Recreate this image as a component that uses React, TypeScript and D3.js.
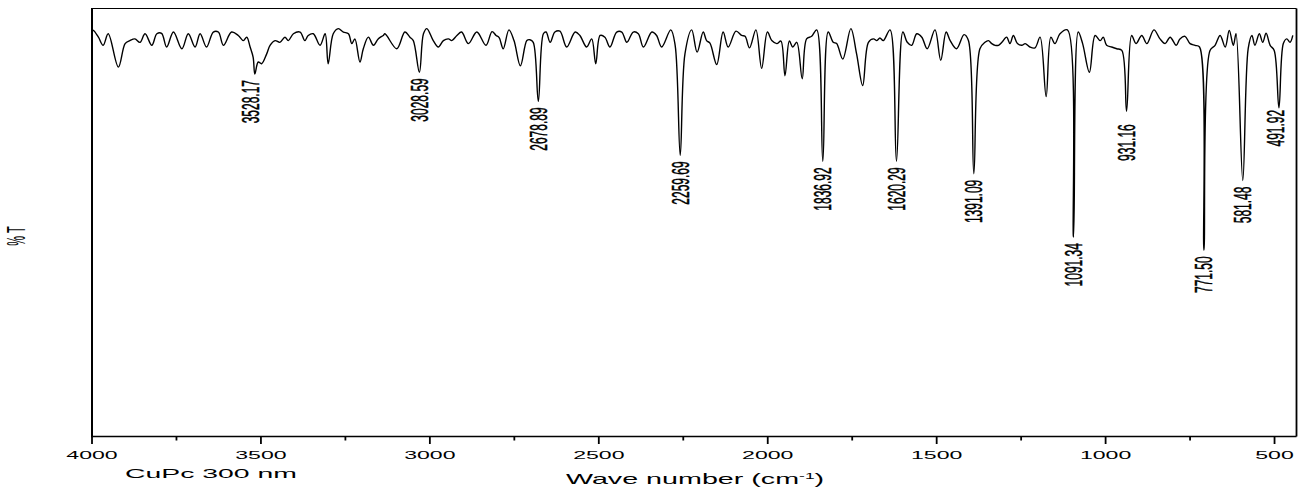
import React from "react";
import * as d3 from "d3";

// IR spectrum: [wave number (cm-1), %T]
const spectrum: [number, number][] = [
  [4000, 94.8], [3996, 94.9], [3981, 93.3], [3967, 91.4], [3952, 94.1], [3922, 86.3], [3902, 91.8],
  [3888, 92.5], [3873, 92.9], [3858, 92.1], [3843, 94.1], [3823, 91.4], [3808, 94.1], [3794, 94.2],
  [3779, 91.0], [3759, 94.5], [3734, 90.6], [3715, 94.1], [3695, 91.0], [3680, 94.1], [3661, 91.0],
  [3641, 94.5], [3626, 94.5], [3611, 91.4], [3587, 94.5], [3567, 93.7], [3552, 92.5], [3542, 93.3],
  [3532, 91.0], [3523, 88.6], [3518, 84.7], [3508, 87.5], [3498, 87.1], [3483, 89.4], [3473, 91.4],
  [3458, 92.5], [3444, 92.1], [3429, 93.3], [3419, 92.5], [3404, 94.1], [3384, 94.5], [3370, 92.5],
  [3360, 93.7], [3345, 94.1], [3325, 91.4], [3310, 94.1], [3301, 87.1], [3286, 94.1], [3271, 95.3],
  [3256, 94.5], [3241, 94.1], [3231, 91.8], [3222, 92.9], [3207, 87.5], [3197, 90.6], [3182, 93.3],
  [3167, 91.4], [3153, 92.9], [3138, 93.7], [3133, 94.1], [3098, 90.6], [3074, 94.5], [3059, 93.3],
  [3049, 92.5], [3031, 85.1], [3019, 94.1], [3009, 95.3], [2990, 92.5], [2975, 91.0], [2960, 92.5],
  [2945, 92.9], [2935, 92.5], [2920, 93.7], [2906, 94.5], [2886, 91.8], [2861, 94.5], [2834, 91.4],
  [2816, 94.6], [2804, 93.7], [2795, 93.2], [2783, 90.6], [2766, 95.0], [2751, 92.5], [2732, 86.6],
  [2713, 92.5], [2704, 92.7], [2694, 92.1], [2679, 78.3], [2664, 94.1], [2656, 94.5], [2644, 92.1],
  [2630, 94.5], [2615, 94.7], [2595, 91.0], [2570, 94.5], [2556, 93.7], [2536, 91.0], [2521, 92.9],
  [2509, 87.1], [2496, 93.7], [2482, 93.3], [2467, 91.0], [2447, 94.5], [2432, 94.5], [2417, 92.1],
  [2398, 94.5], [2383, 94.1], [2368, 91.0], [2343, 94.5], [2329, 93.7], [2314, 91.0], [2287, 95.0],
  [2274, 91.4], [2259, 65.7], [2245, 89.4], [2225, 95.0], [2209, 89.8], [2191, 94.5], [2181, 92.5],
  [2171, 91.9], [2151, 86.9], [2132, 94.5], [2117, 91.0], [2094, 94.7], [2077, 93.7], [2067, 93.5],
  [2054, 90.8], [2035, 95.0], [2018, 86.0], [2001, 94.5], [1988, 92.5], [1973, 91.8], [1961, 92.4],
  [1949, 84.3], [1936, 92.4], [1926, 91.0], [1914, 92.1], [1898, 83.6], [1885, 92.9], [1870, 93.5],
  [1855, 95.0], [1837, 64.3], [1821, 94.5], [1806, 92.1], [1796, 91.8], [1778, 88.2], [1754, 95.3],
  [1737, 89.4], [1719, 82.0], [1702, 92.1], [1687, 92.9], [1677, 92.5], [1668, 93.1], [1658, 92.5],
  [1638, 95.0], [1619, 64.3], [1600, 94.5], [1587, 92.1], [1574, 91.4], [1559, 94.1], [1544, 93.3],
  [1528, 90.6], [1505, 95.0], [1488, 87.9], [1472, 94.5], [1460, 92.5], [1441, 90.6], [1419, 93.9],
  [1406, 92.5], [1390, 61.4], [1372, 90.6], [1357, 92.1], [1347, 92.5], [1337, 91.8], [1327, 91.4],
  [1317, 91.4], [1307, 92.1], [1293, 93.3], [1283, 91.8], [1273, 93.7], [1261, 91.8], [1248, 91.4],
  [1238, 91.8], [1224, 91.0], [1209, 90.8], [1194, 93.3], [1176, 79.4], [1162, 93.3], [1150, 91.8],
  [1135, 94.1], [1113, 95.0], [1095, 46.6], [1081, 94.5], [1068, 91.8], [1048, 85.1], [1031, 93.7],
  [1016, 92.5], [1007, 93.3], [997, 91.4], [982, 91.0], [967, 90.6], [952, 90.2], [938, 76.0],
  [923, 93.7], [910, 91.8], [893, 93.7], [878, 91.8], [857, 95.0], [839, 92.9], [824, 91.8],
  [809, 93.3], [791, 91.4], [780, 92.9], [765, 93.5], [750, 91.8], [735, 91.4], [722, 91.0],
  [709, 43.5], [691, 90.2], [676, 91.4], [661, 93.7], [646, 91.0], [634, 94.9], [622, 91.4],
  [614, 94.1], [594, 59.8], [578, 90.6], [567, 93.7], [558, 91.4], [545, 94.1], [535, 92.1],
  [525, 94.2], [513, 91.4], [501, 90.2], [487, 76.8], [474, 91.8], [464, 92.9], [454, 92.1],
  [446, 93.7],
];

const peakLabels = [
  "3528.17", "3028.59", "2678.89", "2259.69", "1836.92", "1620.29",
  "1391.09", "1091.34", "931.16", "771.50", "581.48", "491.92",
];
const peakPositions = [3518, 3031, 2679, 2259, 1837, 1619, 1390, 1095, 938, 709, 594, 487];

const majorTicks = [4000, 3500, 3000, 2500, 2000, 1500, 1000, 500];
const minorTicks = [3750, 3250, 2750, 2250, 1750, 1250, 750];

const xDomain: [number, number] = [4000, 435];
const yDomain: [number, number] = [0, 100];

const xTitle = "Wave number (cm";
const yTitle = "% T";
const sampleName = "CuPc 300 nm";

const FONT = "'Liberation Sans', Arial, Helvetica, sans-serif";

export default function App() {
  const left = 92, right = 1296.5, top = 8.5, bottom = 436.5;
  const x = d3.scaleLinear().domain(xDomain).range([left, right]);
  const y = d3.scaleLinear().domain(yDomain).range([bottom, top]);

  const line = d3
    .line<[number, number]>()
    .x((d) => x(d[0]))
    .y((d) => y(d[1]))
    .curve(d3.curveCatmullRom.alpha(0.5));

  const depthAt = (w: number) => {
    let best = spectrum[0];
    for (const p of spectrum) if (Math.abs(p[0] - w) < Math.abs(best[0] - w)) best = p;
    return best[1];
  };
  const gapFor = (lbl: string) => (lbl === "931.16" ? 13 : lbl === "491.92" ? 2 : 6);
  const shiftFor = (lbl: string) => (lbl === "3528.17" ? -4 : lbl === "491.92" ? -3 : 0);

  return (
    <svg
      width={1309}
      height={488}
      style={{ position: "absolute", left: 0, top: 0, background: "#fff" }}
      fontFamily={FONT}
    >
      <rect x={0} y={0} width={1309} height={488} fill="#fff" />
      {/* frame */}
      <line x1={left} x2={right} y1={top} y2={top} stroke="#000" strokeWidth={1.2} />
      <line x1={right} x2={right} y1={top} y2={bottom} stroke="#000" strokeWidth={1.8} />
      <line x1={left} x2={left} y1={top - 0.5} y2={bottom + 0.8} stroke="#000" strokeWidth={2} />
      <line x1={left} x2={right} y1={bottom} y2={bottom} stroke="#000" strokeWidth={1.6} />

      {/* ticks */}
      {majorTicks.map((t) => (
        <g key={"M" + t}>
          <line x1={x(t)} x2={x(t)} y1={bottom} y2={bottom + 7.5} stroke="#000" strokeWidth={1.8} />
          <text
            transform={`translate(${x(t)},459) scale(2.1,1)`}
            textAnchor="middle"
            fontSize={11}
            fill="#000"
          >
            {t}
          </text>
        </g>
      ))}
      {minorTicks.map((t) => (
        <line key={"m" + t} x1={x(t)} x2={x(t)} y1={bottom} y2={bottom + 4} stroke="#000" strokeWidth={1.8} />
      ))}

      {/* spectrum */}
      <path d={line(spectrum) || ""} fill="none" stroke="#000" strokeWidth={1.4} strokeLinejoin="round" />

      {/* peak labels */}
      {peakLabels.map((lbl, i) => {
        const px = x(peakPositions[i]) + shiftFor(lbl);
        const py = y(depthAt(peakPositions[i])) + gapFor(lbl);
        return (
          <text
            key={lbl}
            transform={`translate(${px},${py}) rotate(-90) scale(1,2.0)`}
            textAnchor="end"
            dy="0.35em"
            fontSize={12}
            fill="#000"
            stroke="#000"
            strokeWidth={0.25}
          >
            {lbl}
          </text>
        );
      })}

      {/* titles */}
      <text transform="translate(125,478) scale(2.27,1)" fontSize={12.5} fill="#000">
        {sampleName}
      </text>
      <text transform="translate(695,484) scale(2.05,1)" textAnchor="middle" fontSize={14} fill="#000">
        <tspan>{xTitle}</tspan>
        <tspan dy={-5} fontSize={8.5}>-1</tspan>
        <tspan dy={5}>)</tspan>
      </text>
      <text
        transform="translate(16,236) rotate(-90) scale(1,2.3)"
        textAnchor="middle"
        dy="0.35em"
        fontSize={11}
        fill="#000"
      >
        {yTitle}
      </text>
    </svg>
  );
}
